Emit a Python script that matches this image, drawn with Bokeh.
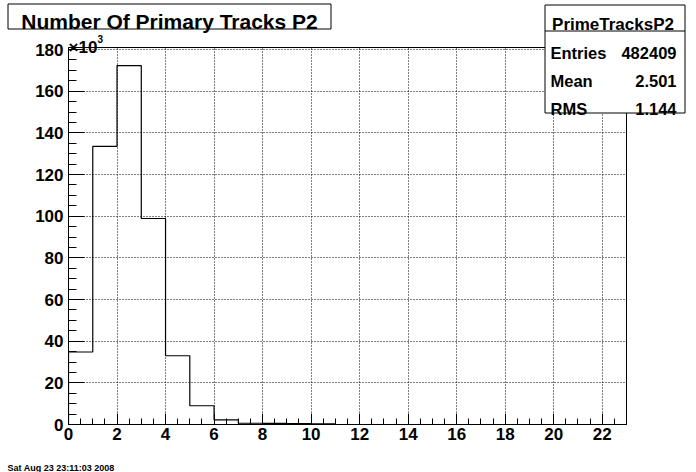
from bokeh.plotting import figure
from bokeh.models import Range1d, SingleIntervalTicker
from bokeh.core.properties import value
from bokeh.embed import file_html
from bokeh.resources import INLINE

# ---- data (counts in units of 10^3) ----
bin_low = [0, 1, 2, 3, 4, 5, 6, 7, 8, 9, 10, 11, 12, 13, 14, 15, 16, 17, 18, 19, 20, 21, 22]
counts_k = [34.8, 133.5, 172.3, 98.9, 33.0, 9.0, 2.2, 0.6, 0.5, 0.4, 0.3,
            0.0, 0.0, 0.0, 0.0, 0.0, 0.0, 0.0, 0.0, 0.0, 0.0, 0.0, 0.0]
bin_width = 1
x_max = 23
y_max = 181

title_text = "Number Of Primary Tracks P2"
hist_name = "PrimeTracksP2"
stat_names = ["Entries", "Mean", "RMS"]
stat_values = ["482409", "2.501", "1.144"]
multiplier = ["\u00d710", "3"]
date_text = "Sat Aug 23 23:11:03 2008"

FONT = "Liberation Sans"
W, H = 696, 472
POS = {"position": "absolute", "left": "0px", "top": "0px"}

# ---------------- main histogram figure ----------------
p = figure(width=W, height=H, output_backend="svg", toolbar_location=None,
           x_range=Range1d(0, x_max), y_range=Range1d(0, y_max),
           min_border_left=68, min_border_right=70, min_border_top=47, min_border_bottom=48)
p.styles = POS
p.background_fill_color = "white"
p.border_fill_color = "white"
p.outline_line_color = "black"
p.outline_line_width = 1
p.outline_line_alpha = 1

xs = [bin_low[0]]
ys = [0]
for lo, c in zip(bin_low, counts_k):
    xs += [lo, lo + bin_width]
    ys += [c, c]
xs.append(bin_low[-1] + bin_width)
ys.append(0)
p.line(xs, ys, line_color="black", line_width=1.2)

p.xaxis.ticker = SingleIntervalTicker(interval=2, num_minor_ticks=4)
p.yaxis.ticker = SingleIntervalTicker(interval=20, num_minor_ticks=4)
for ax in (p.xaxis, p.yaxis):
    ax.axis_line_color = "black"
    ax.major_tick_line_color = "black"
    ax.minor_tick_line_color = "black"
    ax.major_tick_out = 0
    ax.minor_tick_out = 0
    ax.major_label_text_font = FONT
    ax.major_label_text_font_style = "bold"
    ax.major_label_text_font_size = "17px"
    ax.major_label_text_color = "black"
p.xaxis.major_tick_in = 11
p.xaxis.minor_tick_in = 6
p.yaxis.major_tick_in = 16
p.yaxis.minor_tick_in = 8
p.xaxis.major_label_standoff = 3
p.yaxis.major_label_standoff = 5

for g in (p.xgrid, p.ygrid):
    g.grid_line_color = "black"
    g.grid_line_dash = "1 2"
    g.grid_line_width = 1
    g.grid_line_alpha = 1

# ---------------- transparent overlay for pave boxes and texts ----------------
ov = figure(width=W, height=H, output_backend="svg", toolbar_location=None,
            x_range=Range1d(0, W), y_range=Range1d(H, 0),
            x_axis_type=None, y_axis_type=None, min_border=0,
            background_fill_color=None, border_fill_color=None, outline_line_color=None)
ov.styles = POS

ov.quad(left=[7.5, 544.5], right=[330.5, 684.5], top=[3.5, 4.5], bottom=[28.5, 112.5],
        fill_color="white", line_color="black", line_width=1)
ov.segment(x0=[544.5], y0=[30.5], x1=[684.5], y1=[30.5], line_color="black", line_width=1)

def txt(x, y, t, size, align):
    ov.text(x=x, y=y, text=t, text_font=value(FONT), text_font_style="bold",
            text_font_size=value(size), text_align=align, text_baseline="alphabetic",
            text_color="black")

txt([169], [20.5], [title_text], "21px", "center")
txt([612.5], [24], [hist_name], "17px", "center")
txt([550, 550, 550], [52, 80, 108], stat_names, "16.5px", "left")
txt([676, 676, 676], [52, 80, 108], stat_values, "16.5px", "right")
txt([68], [46.5], [multiplier[0]], "17px", "left")
txt([97], [38], [multiplier[1]], "10px", "left")
txt([7], [467], [date_text], "9px", "left")

open("out.html", "w").write(file_html([p, ov], INLINE))
